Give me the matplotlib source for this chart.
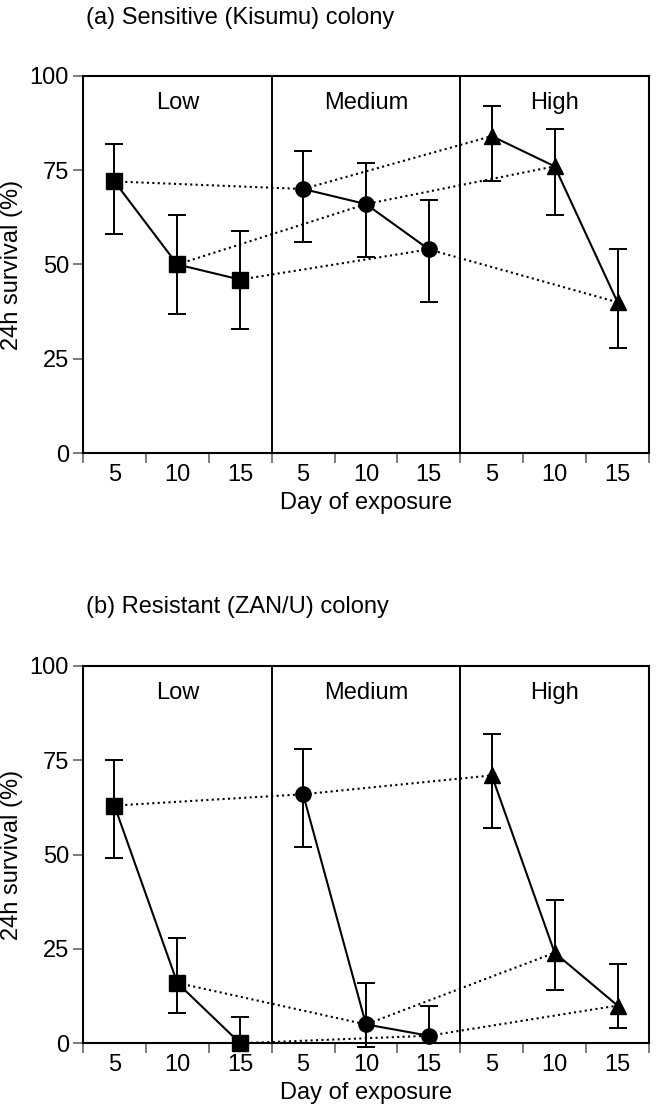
import matplotlib.pyplot as plt
import numpy as np

plt.rcParams['font.family'] = ['Liberation Sans', 'DejaVu Sans']

days = [5, 10, 15]
doses = ['Low', 'Medium', 'High']
dose_markers = ['s', 'o', '^']

# (a) sensitive Kisumu colony, one row per dose, one column per day
kisumu_mean = [[72, 50, 46], [70, 66, 54], [84, 76, 40]]
kisumu_low = [[58, 37, 33], [56, 52, 40], [72, 63, 28]]
kisumu_high = [[82, 63, 59], [80, 77, 67], [92, 86, 54]]

# (b) resistant ZAN/U colony
zanu_mean = [[63, 16, 0], [66, 5, 2], [71, 24, 10]]
zanu_low = [[49, 8, 0], [52, -1, 0], [57, 14, 4]]
zanu_high = [[75, 28, 7], [78, 16, 10], [82, 38, 21]]

panels = [
    ('(a) Sensitive (Kisumu) colony', kisumu_mean, kisumu_low, kisumu_high),
    ('(b) Resistant (ZAN/U) colony', zanu_mean, zanu_low, zanu_high),
]

FS = 17
fig = plt.figure(figsize=(6.56, 11.12), dpi=100)

# axes boxes in figure fractions
boxes = [[0.1265, 0.5924, 0.8628, 0.3395], [0.1265, 0.0618, 0.8628, 0.3393]]
title_y = [0.9835, 0.4544]

for (title, mean, low, high), box, ty in zip(panels, boxes, title_y):
    ax = fig.add_axes(box)
    mean = np.array(mean, dtype=float)
    low = np.array(low, dtype=float)
    high = np.array(high, dtype=float)
    xpos = np.array([[g * 3 + d + 0.5 for d in range(3)] for g in range(3)])

    # dotted lines join the same day across doses
    for d in range(3):
        ax.plot(xpos[:, d], mean[:, d], linestyle=(0, (1, 1.6)), color='black', lw=1.5, zorder=2)
    # solid lines within each dose
    for g in range(3):
        ax.plot(xpos[g], mean[g], '-', color='black', lw=1.5, zorder=3)
        ax.errorbar(xpos[g], mean[g], yerr=[mean[g] - low[g], high[g] - mean[g]],
                    fmt='none', ecolor='black', elinewidth=1.4, capsize=6.5, capthick=1.4,
                    zorder=4, clip_on=False)
        ax.plot(xpos[g], mean[g], linestyle='none', marker=dose_markers[g], ms=11,
                color='black', zorder=5, clip_on=False)

    for sep in [3, 6]:
        ax.axvline(sep, color='black', lw=1.4, zorder=1)
    for g, name in enumerate(doses):
        ax.text(g * 3 + 1.5, 92.8, name, ha='center', va='center', fontsize=FS)

    ax.set_xlim(0, 9)
    ax.set_ylim(0, 100)
    ax.set_yticks([0, 25, 50, 75, 100])
    ax.set_xticks(xpos.flatten())
    ax.set_xticklabels([str(d) for _ in doses for d in days])
    ax.set_xticks(np.arange(0, 10), minor=True)
    ax.tick_params(axis='x', which='major', length=0, pad=8, labelsize=FS)
    ax.tick_params(axis='x', which='minor', length=7, width=1.2, color='#666666', direction='out')
    ax.tick_params(axis='y', length=7, width=1.2, color='#666666', pad=3, labelsize=FS)
    for s in ax.spines.values():
        s.set_linewidth(1.5)

    ax.set_xlabel('Day of exposure', fontsize=FS, va='center')
    ax.xaxis.set_label_coords(0.5, -0.1316)
    fig.text(0.018, box[1] + box[3] / 2, '24h survival (%)', rotation=90,
             ha='center', va='center', fontsize=FS)
    fig.text(0.131, ty, title, ha='left', va='center', fontsize=FS)

fig.savefig('out.png', dpi=100)
